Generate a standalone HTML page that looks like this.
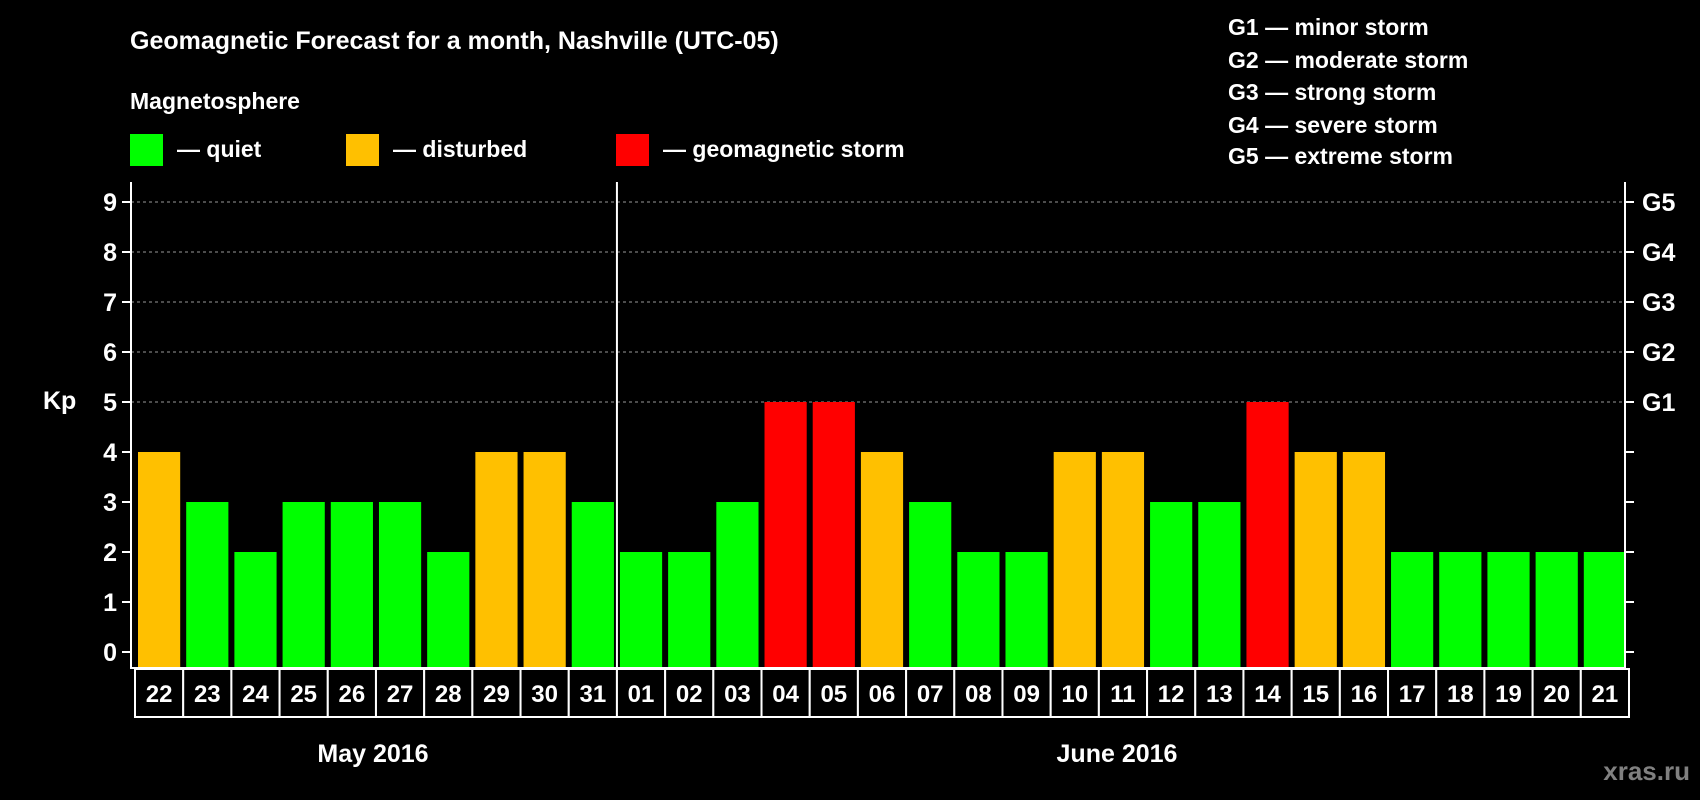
<!DOCTYPE html>
<html><head><meta charset="utf-8"><style>
body{margin:0;background:#000;width:1700px;height:800px;overflow:hidden;font-family:"Liberation Sans",sans-serif;font-weight:bold;color:#fff}
</style></head><body>
<svg id="c" width="1700" height="800" style="position:absolute;left:0;top:0" font-family="Liberation Sans, sans-serif" font-weight="bold">
<text x="130" y="49" font-size="25" fill="#fff">Geomagnetic Forecast for a month, Nashville (UTC-05)</text>
<text x="130" y="109" font-size="23" fill="#fff">Magnetosphere</text>
<rect x="130" y="134" width="33" height="32" fill="#00ff00"/>
<text x="177" y="157" font-size="23" fill="#fff">— quiet</text>
<rect x="346" y="134" width="33" height="32" fill="#ffc000"/>
<text x="393" y="157" font-size="23" fill="#fff">— disturbed</text>
<rect x="616" y="134" width="33" height="32" fill="#ff0000"/>
<text x="663" y="157" font-size="23" fill="#fff">— geomagnetic storm</text>
<g font-size="23" fill="#fff">
<text x="1228" y="35">G1 — minor storm</text>
<text x="1228" y="68">G2 — moderate storm</text>
<text x="1228" y="100">G3 — strong storm</text>
<text x="1228" y="133">G4 — severe storm</text>
<text x="1228" y="164">G5 — extreme storm</text>
</g>
<text x="43" y="409" font-size="25" fill="#fff">Kp</text>
<text x="373" y="762" font-size="25" fill="#fff" text-anchor="middle">May 2016</text>
<text x="1117" y="762" font-size="25" fill="#fff" text-anchor="middle">June 2016</text>
<text x="1690" y="780" font-size="26" fill="#808080" text-anchor="end">xras.ru</text>
<g id="plot"></g>
</svg>
<script>
const days=["22","23","24","25","26","27","28","29","30","31","01","02","03","04","05","06","07","08","09","10","11","12","13","14","15","16","17","18","19","20","21"];
const kp=[4,3,2,3,3,3,2,4,4,3,2,2,3,5,5,4,3,2,2,4,4,3,3,5,4,4,2,2,2,2,2];
const yTicks=[0,1,2,3,4,5,6,7,8,9];
const gLabels=["","","","","","G1","G2","G3","G4","G5"];
const L=131,R=1625,B=668,y0=652,unit=50;
const ns="http://www.w3.org/2000/svg";
const g=document.getElementById('plot');
const pitch=(R-L)/days.length;
const xs=i=>L+i*pitch;
const ys=v=>y0-v*unit;
function mk(t,a){const e=document.createElementNS(ns,t);for(const k in a)e.setAttribute(k,a[k]);g.appendChild(e);return e;}
yTicks.forEach((v,i)=>{
 if(v>=5){const d=mk('line',{x1:L,x2:R,y1:ys(v),y2:ys(v),stroke:'#999','stroke-dasharray':'3,3','stroke-width':1});
 
 }
 const t1=mk('line',{x1:L-9,x2:L,y1:ys(v),y2:ys(v),stroke:'#fff','stroke-width':2});
 
 
 const t2=mk('line',{x1:R,x2:R+9,y1:ys(v),y2:ys(v),stroke:'#fff','stroke-width':2});
 
 
 const tl=mk('text',{x:L-14,y:ys(v)+9,'font-size':25,fill:'#fff','text-anchor':'end'});tl.textContent=v;
 
 
 if(gLabels[i]){const gl=mk('text',{x:R+17,y:ys(v)+9,'font-size':25,fill:'#fff'});gl.textContent=gLabels[i];
 
 }
});
kp.forEach((v,i)=>{
 const col=v>=5?'#ff0000':v>=4?'#ffc000':'#00ff00';
 const top=ys(v),h=B-top;
 const r=mk('rect',{x:xs(i)+7,y:top,width:pitch-6,height:h,fill:col});
 
 
 const bx=mk('rect',{x:xs(i)+4,y:669,width:pitch,height:48,fill:'#000',stroke:'#fff','stroke-width':2});
 
 
 const t=mk('text',{x:xs(i)+4+pitch/2,y:702,'font-size':24,fill:'#fff','text-anchor':'middle'});t.textContent=days[i];
 
 
});
const ax=mk('polyline',{points:`${L},182 ${L},${B} ${R},${B} ${R},182`,fill:'none',stroke:'#fff','stroke-width':2});


const dv=mk('line',{x1:xs(10)+4,x2:xs(10)+4,y1:182,y2:B,stroke:'#fff','stroke-width':2});


</script>
</body></html>
